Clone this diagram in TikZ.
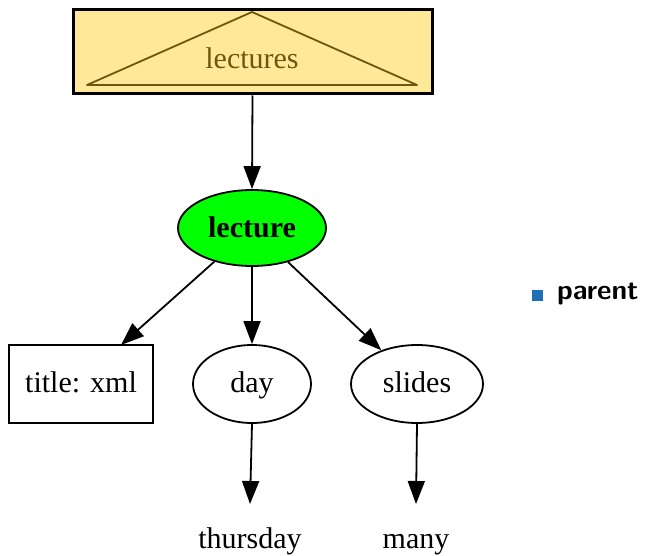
\documentclass[tikz,border=0pt]{standalone}
\usepackage{fontspec}
\setmainfont{Liberation Serif}
\usetikzlibrary{arrows.meta,shapes.geometric}
\definecolor{boxfill}{HTML}{FFE999}
\definecolor{olive}{HTML}{6B5710}
\definecolor{nodegreen}{HTML}{00FF00}
\definecolor{legendblue}{HTML}{1F6FB6}
\tikzset{
  edge/.style={draw=black, line width=1.8pt, -{Triangle[length=23pt,width=17pt]}},
  oval/.style={ellipse, draw=black, line width=1.8pt, inner sep=0pt},
  lbl/.style={font=\fontsize{30}{35}\selectfont, anchor=base, inner sep=0pt},
}
\begin{document}
\begin{tikzpicture}[x=1pt,y=-1pt]
  \useasboundingbox (0,0) rectangle (647,556);

  % collection node with triangle glyph
  \node[draw=black, line width=3pt, fill=boxfill, minimum width=359pt, minimum height=84pt, inner sep=0pt] (lectures) at (252.5,52) {};
  \draw[olive, line width=1.8pt, line join=round] (87,85) -- (252,12) -- (417,85) -- cycle;
  \node[lbl, text=olive] (lecturestext) at (252,69) {lectures};

  % element node
  \node[oval, fill=nodegreen, minimum width=148pt, minimum height=76pt] (lecture) at (252,228) {};
  \node[lbl, font=\fontsize{30}{35}\selectfont\bfseries] (lecturetext) at (252,237) {lecture};

  % children
  \node[draw=black, line width=1.8pt, minimum width=144pt, minimum height=78pt, inner sep=0pt] (title) at (81,384) {};
  \node[oval, minimum width=118pt, minimum height=78pt] (day) at (252,384) {};
  \node[oval, minimum width=132pt, minimum height=78pt] (slides) at (417,384) {};
  \node[lbl] (titletext) at (81,392) {title: xml};
  \node[lbl] (daytext) at (252,392) {day};
  \node[lbl] (slidestext) at (417,392) {slides};

  % values
  \node[lbl] (thursday) at (250,548) {thursday};
  \node[lbl] (many) at (416,548) {many};
  \coordinate (thursdaytop) at (250,504);
  \coordinate (manytop) at (416,504);
  \coordinate (titlecorner) at (121,345);

  % connectors
  \draw[edge] (lectures.south) -- (lecture.north);
  \draw[edge] (lecture) -- (titlecorner);
  \draw[edge] (lecture.south) -- (day.north);
  \draw[edge] (lecture) -- (slides);
  \draw[edge] (day.south) -- (thursdaytop);
  \draw[edge] (slides.south) -- (manytop);

  % legend
  \node[fill=legendblue, minimum size=11pt, inner sep=0pt] (legendkey) at (537,295) {};
  \node[anchor=west, font=\sffamily\bfseries\fontsize{28}{32}\selectfont, inner sep=0pt] (legendtext) at (557,294) {parent};
\end{tikzpicture}
\end{document}
